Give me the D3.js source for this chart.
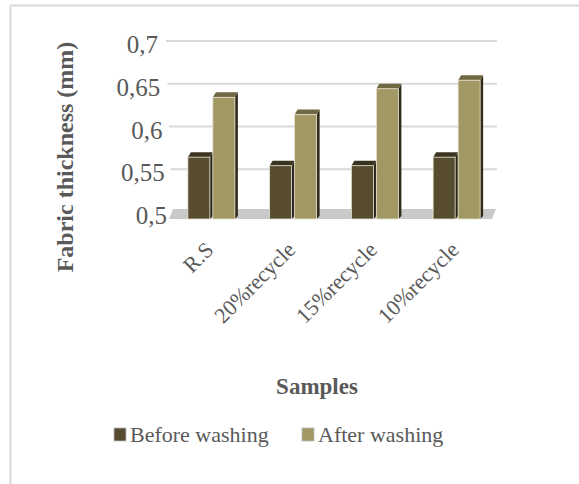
<!DOCTYPE html>
<html>
<head>
<meta charset="utf-8">
<script src="https://cdn.jsdelivr.net/npm/d3@7"></script>
<style>
  body { margin: 0; background: #fff; }
  text { font-family: "Liberation Serif", "Times New Roman", serif; fill: #595959; }
</style>
</head>
<body>
<script>
// chart data
let samples = ["R.S", "20%recycle", "15%recycle", "10%recycle"]
let before_washing = [0.57, 0.56, 0.56, 0.57]
let after_washing = [0.64, 0.62, 0.65, 0.66]
let y_ticks = [0.5, 0.55, 0.6, 0.65, 0.7]
let series_names = ["Before washing", "After washing"]

let width = 579, height = 484
let dark = { front: "#574c30", top: "#3a3320", side: "#2b271a" }
let light = { front: "#a19863", top: "#706842", side: "#2f2a1c" }

let svg = d3.select("body").append("svg")
  .attr("width", width)
  .attr("height", height)

// frame (only top/left edges are inside the picture)
svg.append("rect")
  .attr("x", 10.5).attr("y", 5.5)
  .attr("width", 700).attr("height", 700)
  .attr("fill", "none")
  .attr("stroke", "#d9d9d9")
  .attr("stroke-width", 2)

let y = d3.scaleLinear().domain([0.5, 0.7]).range([212, 41])
// small perspective shift of the left side
let leftX = d3.scaleLinear().domain([0.5, 0.7]).range([172, 166])
let labelX = d3.scaleLinear().domain([0.5, 0.7]).range([167, 158])
let x = d3.scaleBand().domain(samples).range([171, 498])

// gridlines
svg.append("g").selectAll("line")
  .data(y_ticks.filter(d => d > 0.5))
  .enter().append("line")
  .attr("x1", d => leftX(d))
  .attr("x2", 497)
  .attr("y1", d => y(d))
  .attr("y2", d => y(d))
  .attr("stroke", "#d9d9d9")
  .attr("stroke-width", 2)

// floor
svg.append("polygon")
  .attr("points", [[173, y(0.5) - 3], [496, y(0.5) - 3], [492, 219], [169, 219]].join(" "))
  .attr("fill", "#c9c9c9")

// tick labels
svg.append("g").selectAll("text")
  .data(y_ticks)
  .enter().append("text")
  .attr("x", d => labelX(d))
  .attr("y", d => y(d) + 12)
  .attr("text-anchor", "end")
  .attr("font-size", 25)
  .text(d => String(d).replace(".", ","))

function bar(g, cx, v, col) {
  let x0 = cx, x1 = cx + 22, d = 3
  let yt = y(v), yf = yt + 5, yb = 219
  g.append("polygon")
    .attr("points", [[x1, yf], [x1 + d, yt], [x1 + d, yb - 3], [x1, yb]].join(" "))
    .attr("fill", col.side)
  g.append("polygon")
    .attr("points", [[x0, yf], [x0 + d, yt], [x1 + d, yt], [x1, yf]].join(" "))
    .attr("fill", col.top)
  g.append("rect")
    .attr("x", x0).attr("y", yf)
    .attr("width", x1 - x0).attr("height", yb - yf)
    .attr("fill", col.front)
    .attr("stroke", "#e4e0d0")
    .attr("stroke-width", 0.8)
}

let bars = svg.append("g")
samples.forEach((s, i) => {
  let c = x(s) + x.bandwidth() / 2
  bar(bars, c - 24, before_washing[i], dark)
  bar(bars, c + 1, after_washing[i], light)
})

// category labels
svg.append("g").selectAll("text")
  .data(samples)
  .enter().append("text")
  .attr("text-anchor", "end")
  .attr("font-size", 22)
  .attr("transform", d => "translate(" + (x(d) + x.bandwidth() / 2 + 3) + ",251) rotate(-45)")
  .text(d => d)

// axis titles
svg.append("text")
  .attr("x", 317).attr("y", 394)
  .attr("text-anchor", "middle")
  .attr("font-size", 23)
  .attr("font-weight", "bold")
  .text("Samples")

svg.append("text")
  .attr("transform", "translate(73,157) rotate(-90)")
  .attr("text-anchor", "middle")
  .attr("font-size", 24)
  .attr("font-weight", "bold")
  .text("Fabric thickness (mm)")

// legend
let legend = svg.append("g")
let legX = [114, 302]
let legCol = [dark.front, light.front]
series_names.forEach((n, i) => {
  legend.append("rect")
    .attr("x", legX[i]).attr("y", 428)
    .attr("width", 12).attr("height", 13)
    .attr("fill", legCol[i])
    .attr("stroke", "#bbb")
    .attr("stroke-width", 0.8)
  legend.append("text")
    .attr("x", legX[i] + 16).attr("y", 442)
    .attr("font-size", 22)
    .text(n)
})
</script>
</body>
</html>
